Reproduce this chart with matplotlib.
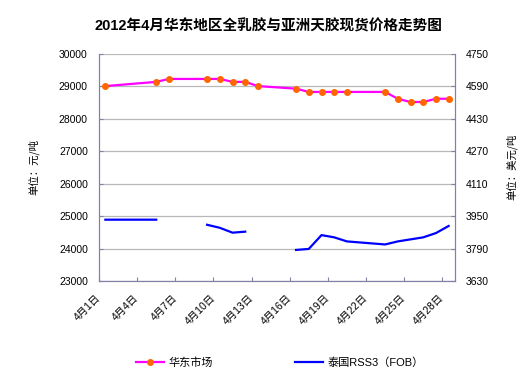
import numpy as np
import matplotlib
matplotlib.use("Agg")
import matplotlib.pyplot as plt

plt.rcParams['font.family'] = ['Liberation Sans', 'Noto Sans CJK SC', 'DejaVu Sans']

# trading days in April 2012
days = [1, 5, 6, 9, 10, 11, 12, 13, 16, 17, 18, 19, 20, 23, 24, 25, 26, 27, 28]
# 华东市场 全乳胶 (元/吨)
huadong = [29000, 29130, 29220, 29220, 29220, 29130, 29130, 29000, 28920, 28820,
           28820, 28820, 28820, 28820, 28610, 28510, 28510, 28610, 28610]
# 泰国RSS3 (FOB) 美元/吨, nan = no quote
rss3 = [3932, 3932, np.nan, 3907, 3892, 3868, 3873, np.nan, 3783, 3788,
        3856, 3845, 3825, 3810, 3825, 3835, 3845, 3866, 3901]
tick_days = [1, 4, 7, 10, 13, 16, 19, 22, 25, 28]

x = np.array(days) - 0.5
spine_col = '#8080a8'

fig = plt.figure(figsize=(5.28, 3.83), dpi=100)
ax = fig.add_axes([99/528, 1-281/383, (455-99)/528, (281-53.6)/383])
ax2 = ax.twinx()

ax.set_ylim(23000, 30000)
ax.set_yticks(range(23000, 30001, 1000))
ax2.set_ylim(3630, 4750)
ax2.set_yticks(range(3630, 4751, 160))
ax.grid(axis='y', color='#b8b8b8', lw=0.9)
ax.set_axisbelow(True)

ax.plot(x, huadong, color='#ff00ff', lw=1.6, marker='o', ms=4,
        mfc='#ff6600', mec='#ff6600', label='华东市场', zorder=3)
ax2.plot(x, rss3, color='#0000ff', lw=1.6, label='泰国RSS3（FOB）')

ax.set_xlim(0, 28)
ax.set_xticks([d - 1 for d in tick_days])
ax.set_xticklabels([f'4月{d}日' for d in tick_days], rotation=45,
                   ha='right', va='center', rotation_mode='anchor', fontsize=7.5)

for a in (ax, ax2):
    for s in a.spines.values():
        s.set_color(spine_col)
    a.spines['top'].set_visible(False)
    a.tick_params(direction='in', length=3, color=spine_col, labelsize=7.5, pad=8)
ax.tick_params(axis='x', pad=11)

ax.set_ylabel('单位：元/吨', fontsize=7.5, family=['Noto Sans CJK SC'], labelpad=14)
ax2.set_ylabel('单位：美元/吨', fontsize=7.5, family=['Noto Sans CJK SC'], labelpad=12)

fig.text(268/528, 1-26/383, '2012年4月华东地区全乳胶与亚洲天胶现货价格走势图',
         ha='center', va='center', fontsize=10.5, fontweight='bold')

h1, l1 = ax.get_legend_handles_labels()
h2, l2 = ax2.get_legend_handles_labels()
fig.legend(h1 + h2, l1 + l2, loc='center', bbox_to_anchor=(0.53, 1-363/383),
           ncol=2, frameon=False, handlelength=2.5, handletextpad=0.4,
           columnspacing=7.4, prop={'family': ['Liberation Sans', 'Noto Sans CJK SC'], 'size': 8})

fig.savefig('out.png', dpi=100)
